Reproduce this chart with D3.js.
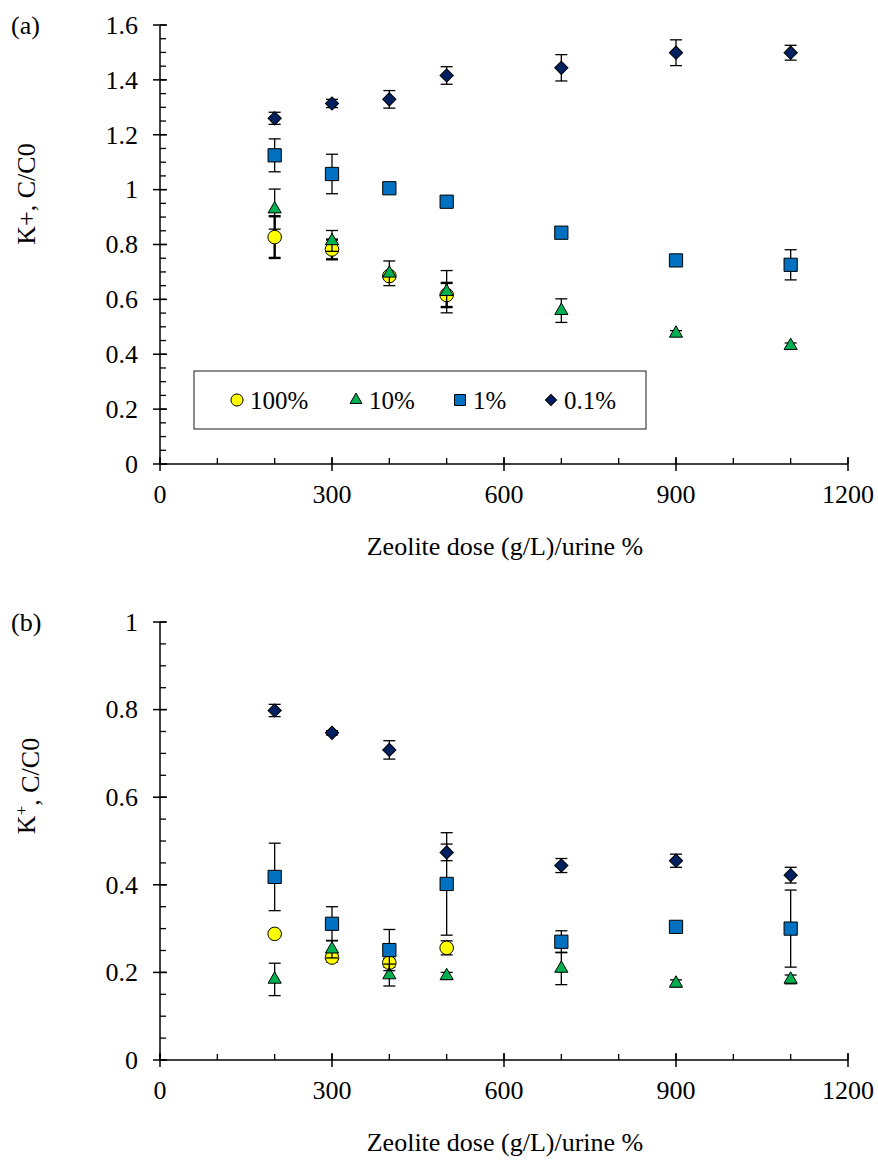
<!DOCTYPE html>
<html lang="en">

<head>
    <meta charset="UTF-8">
    <title>K+ C/C0 vs zeolite dose</title>
    <script src="https://d3js.org/d3.v7.min.js"></script>
    <style>
        body {
            margin: 0;
            background: #fff;
        }
    </style>
</head>

<body>
    <div id="chart"></div>

    <script>
        // ----- data -----
        var doses = [200, 300, 400, 500, 700, 900, 1100];
        var seriesNames = ["100%", "10%", "1%", "0.1%"];
        var xTicks = [0, 300, 600, 900, 1200];

        // panel (a)
        var a100 = [0.827, 0.782, 0.685, 0.616, null, null, null];
        var a100Err = [0.076, 0.036, 0.010, 0.044, null, null, null];
        var a10 = [0.929, 0.813, 0.695, 0.628, 0.559, 0.476, 0.431];
        var a10Err = [0.073, 0.038, 0.045, 0.077, 0.043, 0.010, 0.010];
        var a1 = [1.125, 1.057, 1.005, 0.956, 0.843, 0.742, 0.726];
        var a1Err = [0.060, 0.072, 0.008, 0.012, 0.008, 0.008, 0.055];
        var a01 = [1.260, 1.314, 1.329, 1.416, 1.444, 1.499, 1.499];
        var a01Err = [0.022, 0.015, 0.032, 0.032, 0.048, 0.047, 0.027];
        var aYTicks = [0, 0.2, 0.4, 0.6, 0.8, 1, 1.2, 1.4, 1.6];

        // panel (b)
        var b100 = [0.288, 0.234, 0.222, 0.256, null, null, null];
        var b100Err = [0.005, 0.010, 0.010, 0.016, null, null, null];
        var b10 = [0.184, 0.253, 0.194, 0.192, 0.209, 0.175, 0.184];
        var b10Err = [0.037, 0.020, 0.025, 0.008, 0.037, 0.008, 0.010];
        var b1 = [0.418, 0.311, 0.251, 0.402, 0.270, 0.304, 0.300];
        var b1Err = [0.077, 0.039, 0.047, 0.117, 0.025, 0.005, 0.088];
        var b01 = [0.798, 0.747, 0.708, 0.474, 0.444, 0.455, 0.422];
        var b01Err = [0.014, 0.005, 0.021, 0.019, 0.016, 0.015, 0.018];
        var bYTicks = [0, 0.2, 0.4, 0.6, 0.8, 1];

        // marker styles per series
        var fills = ["#FFFF00", "#00B050", "#0070C0", "#002060"];
        var shapes = [
            d3.symbol().type(d3.symbolCircle).size(145),
            d3.symbol().type(d3.symbolTriangle).size(75),
            d3.symbol().type(d3.symbolSquare).size(175),
            d3.symbol().type(d3.symbolSquare).size(88)
        ];
        var rotations = [0, 0, 0, 45];

        var serif = "'Liberation Serif', 'Times New Roman', 'DejaVu Serif', serif";
        var fontSize = "26px";

        var width = 878, height = 1162;
        var svg = d3.select("#chart").append("svg")
            .attr("width", width)
            .attr("height", height)
            .attr("font-family", serif)
            .style("font-family", serif);

        var x = d3.scaleLinear().domain([0, 1200]).range([160, 848]);

        function drawPanel(opts) {
            var y = d3.scaleLinear().domain([0, opts.yMax]).range([opts.bottom, opts.top]);
            var g = svg.append("g");

            // y axis line + ticks
            g.append("line")
                .attr("x1", x(0)).attr("x2", x(0))
                .attr("y1", y(0)).attr("y2", y(opts.yMax))
                .attr("stroke", "#000").attr("stroke-width", 1.5);
            var minorY = d3.range(0, opts.yMax + 0.001, 0.05);
            g.selectAll(".yminor").data(minorY).enter().append("line")
                .attr("x1", x(0)).attr("x2", x(0) + 6)
                .attr("y1", d => y(d)).attr("y2", d => y(d))
                .attr("stroke", "#000").attr("stroke-width", 1.3);
            g.selectAll(".ymajor").data(opts.yTicks).enter().append("line")
                .attr("x1", x(0) - 7).attr("x2", x(0) + 7)
                .attr("y1", d => y(d)).attr("y2", d => y(d))
                .attr("stroke", "#000").attr("stroke-width", 1.5);
            g.selectAll(".ylab").data(opts.yTicks).enter().append("text")
                .attr("x", 138).attr("y", d => y(d))
                .attr("dy", "0.34em")
                .attr("text-anchor", "end")
                .style("font-size", fontSize)
                .text(d => String(+d.toFixed(1)));

            // x axis line + ticks
            g.append("line")
                .attr("x1", x(0)).attr("x2", x(1200))
                .attr("y1", y(0)).attr("y2", y(0))
                .attr("stroke", "#000").attr("stroke-width", 1.5);
            var minorX = d3.range(0, 1201, 100);
            g.selectAll(".xminor").data(minorX).enter().append("line")
                .attr("x1", d => x(d)).attr("x2", d => x(d))
                .attr("y1", y(0)).attr("y2", y(0) - 6)
                .attr("stroke", "#000").attr("stroke-width", 1.3);
            g.selectAll(".xmajor").data(xTicks).enter().append("line")
                .attr("x1", d => x(d)).attr("x2", d => x(d))
                .attr("y1", y(0) - 7).attr("y2", y(0) + 7)
                .attr("stroke", "#000").attr("stroke-width", 1.5);
            g.selectAll(".xlab").data(xTicks).enter().append("text")
                .attr("x", d => x(d)).attr("y", y(0) + 30)
                .attr("dy", "0.34em")
                .attr("text-anchor", "middle")
                .style("font-size", fontSize)
                .text(d => d);

            // titles
            g.append("text")
                .attr("x", x(600) + 1).attr("y", y(0) + 82)
                .attr("dy", "0.34em")
                .attr("text-anchor", "middle")
                .style("font-size", fontSize)
                .text("Zeolite dose (g/L)/urine %");

            var yt = g.append("text")
                .attr("transform", "translate(26," + opts.titleY + ") rotate(-90)")
                .attr("dy", "0.34em")
                .attr("text-anchor", "middle")
                .style("font-size", fontSize);
            if (opts.superK) {
                yt.append("tspan").text("K");
                yt.append("tspan").attr("dy", "-0.45em").style("font-size", "17px").text("+");
                yt.append("tspan").attr("dy", "0.45em").text(", C/C0");
            } else {
                yt.text("K+, C/C0");
            }

            g.append("text")
                .attr("x", 11).attr("y", opts.top)
                .attr("dy", "0.34em")
                .style("font-size", fontSize)
                .text(opts.tag);

            // series: error bars, then markers
            opts.series.forEach(function (s, i) {
                var pts = doses.map((d, j) => ({ x: d, v: s.values[j], e: s.err[j] }))
                    .filter(p => p.v != null);
                var sw = s.errWidth || 1.3;
                var eg = g.append("g").attr("stroke", "#000").attr("stroke-width", sw);
                pts.forEach(function (p) {
                    var cx = x(p.x);
                    eg.append("line").attr("x1", cx).attr("x2", cx)
                        .attr("y1", y(p.v - p.e)).attr("y2", y(p.v + p.e));
                    [p.v - p.e, p.v + p.e].forEach(function (w) {
                        eg.append("line").attr("x1", cx - 6).attr("x2", cx + 6)
                            .attr("y1", y(w)).attr("y2", y(w));
                    });
                });
                g.append("g").selectAll("path").data(pts).enter().append("path")
                    .attr("d", shapes[i])
                    .attr("transform", p => "translate(" + x(p.x) + "," + y(p.v) + ") rotate(" + rotations[i] + ")")
                    .attr("fill", fills[i])
                    .attr("stroke", "#000")
                    .attr("stroke-width", 1);
            });
        }

        drawPanel({
            tag: "(a)", top: 25, bottom: 464, yMax: 1.6, yTicks: aYTicks, superK: false, titleY: 194,
            series: [
                { values: a100, err: a100Err, errWidth: 2.4 },
                { values: a10, err: a10Err },
                { values: a1, err: a1Err },
                { values: a01, err: a01Err }
            ]
        });

        drawPanel({
            tag: "(b)", top: 622, bottom: 1060, yMax: 1, yTicks: bYTicks, superK: true, titleY: 786,
            series: [
                { values: b100, err: b100Err },
                { values: b10, err: b10Err },
                { values: b1, err: b1Err },
                { values: b01, err: b01Err }
            ]
        });

        // legend in panel (a)
        var legend = svg.append("g");
        legend.append("rect")
            .attr("x", 194).attr("y", 371)
            .attr("width", 452).attr("height", 58)
            .attr("fill", "#fff")
            .attr("stroke", "#404040").attr("stroke-width", 1.2);
        var legendX = [237, 356, 460, 551];
        var legendShapes = [
            d3.symbol().type(d3.symbolCircle).size(115),
            d3.symbol().type(d3.symbolTriangle).size(62),
            d3.symbol().type(d3.symbolSquare).size(120),
            d3.symbol().type(d3.symbolSquare).size(62)
        ];
        seriesNames.forEach(function (name, i) {
            legend.append("path")
                .attr("d", legendShapes[i])
                .attr("transform", "translate(" + legendX[i] + ",400) rotate(" + rotations[i] + ")")
                .attr("fill", fills[i])
                .attr("stroke", "#000").attr("stroke-width", 1);
            legend.append("text")
                .attr("x", legendX[i] + 13).attr("y", 400)
                .attr("dy", "0.34em")
                .style("font-size", "25px")
                .text(name);
        });
    </script>
</body>

</html>
